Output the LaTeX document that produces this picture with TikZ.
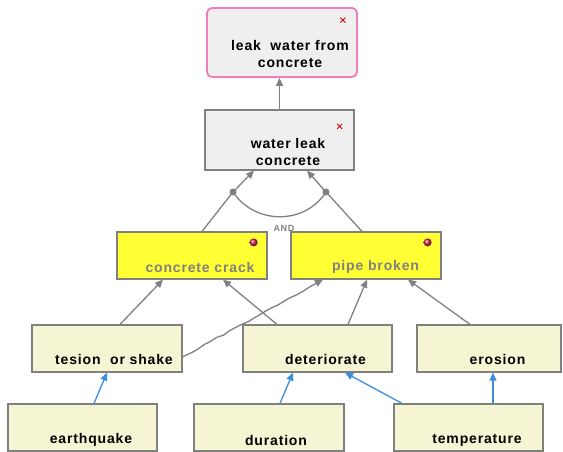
\documentclass[tikz,border=0pt]{standalone}
\usepackage{fontspec}
\setsansfont{Liberation Sans}
\newfontfamily\boxfont{Liberation Sans}[LetterSpace=6]
\usepackage{tikz}
\usetikzlibrary{arrows.meta, calc, decorations.pathmorphing}
\definecolor{linegray}{HTML}{808080}
\definecolor{pinkline}{HTML}{F07CBE}
\definecolor{greyfill}{HTML}{EFEFEF}
\definecolor{yellowfill}{HTML}{FFFF33}
\definecolor{beigefill}{HTML}{F5F5D3}
\definecolor{causeblue}{HTML}{3A8EE0}
\definecolor{ballred}{HTML}{D0204E}
\begin{document}
\begin{tikzpicture}[x=1pt, y=-1pt,
  box/.style={rectangle, draw=linegray, line width=1.2pt, inner sep=0pt},
  topbox/.style={box, draw=pinkline, line width=1.8pt, rounded corners=5pt, fill=greyfill},
  midbox/.style={box, fill=greyfill},
  evbox/.style={box, fill=yellowfill, minimum height=47pt, minimum width=150pt},
  basebox/.style={box, fill=beigefill, minimum height=47pt},
  txt/.style={font=\boxfont\bfseries\fontsize{14}{17}\selectfont, align=center, inner sep=0pt},
  conn/.style={draw=linegray, line width=1.3pt, -{Triangle[length=8pt, width=7pt]}},
  cause/.style={conn, draw=causeblue},
  jdot/.style={circle, fill=linegray, minimum size=7pt, inner sep=0pt},
  xmark/.style={draw=red!85!black, line width=0.8pt}
]
  \useasboundingbox (0,0) rectangle (563,452);
  % Top event and intermediate event
  \node[topbox, minimum width=150pt, minimum height=69pt] (top) at (282,42.5) {};
  \node[midbox, minimum width=149pt, minimum height=60pt] (wl) at (279.5,140) {};
  \node[txt] (toptxt) at (290,54) {leak~~water from\\concrete};
  \node[txt] (wltxt) at (288,152) {water leak\\concrete};
  % Gate level events
  \node[evbox] (cc) at (192,255.5) {};
  \node[evbox] (pb) at (366,255.5) {};
  \node[txt, text=linegray] (cctxt) at (200,267) {concrete crack};
  \node[txt, text=linegray] (pbtxt) at (375.5,267) {pipe broken};
  % Basic causes
  \foreach \n/\x/\y/\w in {ts/107/348.5/150, de/317.5/348.5/149, er/489/348.5/144,
      eq/82.5/427.5/149, du/269/427.5/150, te/468.5/427.5/149}{
    \node[basebox, minimum width=\w pt] (\n) at (\x,\y) {};
  }
  \foreach \n/\x/\y/\t in {ts/114/359/{tesion~~or shake}, de/325.5/359/deteriorate,
      er/497.5/359/erosion, eq/91/440/earthquake, du/276/440/duration,
      te/477/440/temperature}{
    \node[txt] (\n txt) at (\x,\y) {\t};
  }
  % Markers
  \foreach \n/\dx/\dy in {top/-15/13, wl/-15/17}{
    \draw[xmark] ($(\n.north east)+(\dx-2.5,\dy-2.5)$) -- ++(5,5)
      ($(\n.north east)+(\dx+2.5,\dy-2.5)$) -- ++(-5,5);
  }
  \foreach \n in {cc, pb}{
    \shade[ball color=ballred] ($(\n.north east)+(-14,11)$) circle (4pt);
  }
  % AND gate
  \node[jdot] (gl) at (233,192) {};
  \node[jdot] (gr) at (326,192) {};
  \draw[linegray, line width=1.3pt] (gl.center) .. controls (255,225) and (305,225) .. (gr.center);
  \node[font=\boxfont\bfseries\fontsize{9}{10}\selectfont, text=linegray] (andlbl) at (284,228) {AND};
  \draw[conn] (wl.north) -- (wl.north |- top.south);
  \draw[conn] (gl.center) -- ([xshift=-25.5pt]wl.south);
  \draw[conn] (gr.center) -- ([xshift=27.5pt]wl.south);
  \draw[linegray, line width=1.3pt] ([xshift=10pt]cc.north) -- (gl.center);
  \draw[linegray, line width=1.3pt] ([xshift=-4pt]pb.north) -- (gr.center);
  % Causes to events
  \draw[conn] ([xshift=13pt]ts.north) -- ([xshift=-29pt]cc.south);
  \draw[conn] ([xshift=-40.5pt]de.north) -- ([xshift=31pt]cc.south);
  \draw[conn, decorate, decoration={random steps, segment length=7pt, amplitude=0.8pt,
      pre length=4pt, post length=10pt}] ([yshift=-8.5pt]ts.east) -- ([xshift=-43pt]pb.south);
  \draw[conn] ([xshift=30.5pt]de.north) -- ([xshift=1pt]pb.south);
  \draw[conn] ([xshift=-19pt]er.north) -- ([xshift=42pt]pb.south);
  % Basic causes
  \draw[cause] ([xshift=11.5pt]eq.north) -- (ts.south);
  \draw[cause] ([xshift=11pt]du.north) -- ([xshift=-24.5pt]de.south);
  \draw[cause] ([xshift=-66.5pt]te.north) -- ([xshift=27.5pt]de.south);
  \draw[cause] ([xshift=24.5pt]te.north) -- ([xshift=4pt]er.south);
\end{tikzpicture}
\end{document}
